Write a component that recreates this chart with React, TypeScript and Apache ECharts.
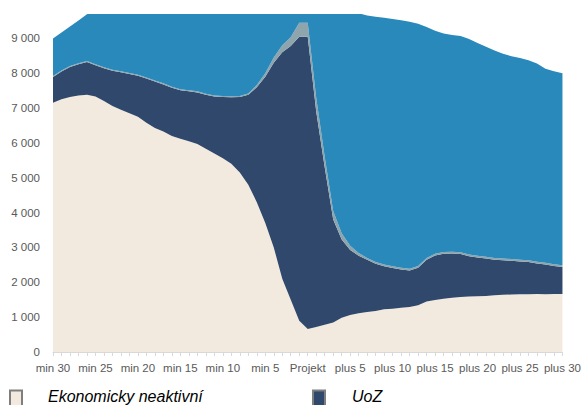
import React, { useEffect, useRef } from "react";
import * as echarts from "echarts";

const categories = [
  "min 30", "min 29", "min 28", "min 27", "min 26", "min 25", "min 24", "min 23", "min 22", "min 21",
  "min 20", "min 19", "min 18", "min 17", "min 16", "min 15", "min 14", "min 13", "min 12", "min 11",
  "min 10", "min 9", "min 8", "min 7", "min 6", "min 5", "min 4", "min 3", "min 2", "min 1",
  "Projekt",
  "plus 1", "plus 2", "plus 3", "plus 4", "plus 5", "plus 6", "plus 7", "plus 8", "plus 9", "plus 10",
  "plus 11", "plus 12", "plus 13", "plus 14", "plus 15", "plus 16", "plus 17", "plus 18", "plus 19", "plus 20",
  "plus 21", "plus 22", "plus 23", "plus 24", "plus 25", "plus 26", "plus 27", "plus 28", "plus 29", "plus 30",
];

const ekonomickyNeaktivni = [
  7150, 7250, 7320, 7360, 7380, 7330, 7200, 7060, 6950, 6850,
  6750, 6580, 6430, 6330, 6200, 6120, 6050, 5970, 5830, 5700,
  5560, 5400, 5150, 4800, 4300, 3700, 3000, 2100, 1500, 900,
  660,
  720, 780, 850, 980, 1060, 1110, 1150, 1180, 1230, 1240,
  1270, 1290, 1340, 1450, 1490, 1530, 1560, 1580, 1590, 1600,
  1610, 1630, 1640, 1650, 1660, 1660, 1665, 1660, 1665, 1665,
];

const uoz = [
  740, 800, 860, 900, 940, 900, 940, 1010, 1080, 1130,
  1180, 1270, 1330, 1350, 1380, 1390, 1430, 1480, 1550, 1630,
  1760, 1910, 2170, 2580, 3300, 4200, 5300, 6500, 7280, 8150,
  8390,
  6180, 4520, 2950, 2250, 1870, 1650, 1500, 1350, 1230, 1170,
  1100, 1050, 1080, 1200, 1280, 1290, 1270, 1230, 1160, 1110,
  1070, 1020, 990, 970, 940, 920, 875, 850, 805, 775,
];

const ostatni = [
  30, 30, 30, 30, 30, 30, 30, 30, 30, 30,
  30, 30, 30, 30, 30, 30, 30, 30, 30, 30,
  30, 30, 30, 40, 60, 100, 150, 200, 250, 400,
  400,
  400, 300, 250, 180, 120, 80, 50, 50, 50, 50,
  50, 50, 50, 50, 50, 50, 50, 50, 50, 50,
  50, 50, 50, 50, 50, 50, 50, 50, 50, 50,
];

const zamestnani = [
  1080, 1090, 1130, 1220, 1340, 1590, 1780, 1900, 1940, 1990,
  2040, 2120, 2210, 2290, 2390, 2460, 2490, 2520, 2590, 2640,
  2650, 2660, 2650, 2580, 2340, 2000, 1550, 1200, 970, 550,
  550,
  2700, 4400, 5950, 6590, 6750, 6880, 6960, 7040, 7080, 7100,
  7100, 7090, 6950, 6630, 6400, 6270, 6220, 6210, 6180, 6110,
  6030, 5950, 5880, 5820, 5790, 5740, 5690, 5570, 5540, 5510,
];

const FONT = "Liberation Sans";

function fmt(v: number) {
  return String(v).replace(/\B(?=(\d{3})+(?!\d))/g, " ");
}

export default function App() {
  const ref = useRef<HTMLDivElement>(null);
  useEffect(() => {
    if (!ref.current) return;
    const chart = echarts.init(ref.current, undefined, { renderer: "svg" });
    const mk = (name: string, data: number[], color: string) => ({
      name,
      type: "line",
      stack: "total",
      data,
      showSymbol: false,
      symbol: "none",
      lineStyle: { width: 0, color },
      itemStyle: { color, borderColor: "#7f7f7f", borderWidth: 1 },
      areaStyle: { color, opacity: 1 },
      emphasis: { disabled: true },
    });
    const textRich = (gap: number) => ({
      s: { width: gap, height: 10 },
      t: {
        fontFamily: FONT,
        fontStyle: "italic",
        fontSize: 16,
        color: "#000",
        padding: [0, 0, 11, 0],
      },
    });
    const legendBase = {
      top: 388,
      orient: "horizontal",
      icon: "rect",
      itemWidth: 12,
      itemHeight: 22,
      selectedMode: false,
      padding: 0,
      formatter: "{s|}{t|{name}}",
    };
    chart.setOption({
      animation: false,
      grid: { left: 53, right: 21, top: 14, bottom: 53, containLabel: false },
      legend: [
        {
          ...legendBase,
          left: 9,
          data: ["Ekonomicky neaktivní"],
          textStyle: { fontFamily: FONT, fontSize: 16, verticalAlign: "middle", rich: textRich(21) },
        },
        {
          ...legendBase,
          left: 312,
          data: ["UoZ"],
          textStyle: { fontFamily: FONT, fontSize: 16, verticalAlign: "middle", rich: textRich(22) },
        },
      ],
      xAxis: {
        type: "category",
        data: categories,
        boundaryGap: false,
        axisLine: { show: true, lineStyle: { color: "#d9d9d9", width: 1 } },
        axisTick: { show: true, interval: 0, length: 4, lineStyle: { color: "#d9d9d9" } },
        axisLabel: { interval: 4, color: "#595959", fontFamily: FONT, fontSize: 11.5, margin: 10 },
        splitLine: { show: false },
      },
      yAxis: {
        type: "value",
        min: 0,
        max: 9700,
        interval: 1000,
        axisLine: { show: false },
        axisTick: { show: false },
        splitLine: { show: false },
        axisLabel: {
          showMaxLabel: false,
          color: "#595959",
          fontFamily: FONT,
          fontSize: 11.5,
          margin: 13,
          formatter: (v: number) => fmt(v),
        },
      },
      series: [
        mk("Ekonomicky neaktivní", ekonomickyNeaktivni, "#f3eadf"),
        mk("UoZ", uoz, "#2f486b"),
        mk("Ostatní", ostatni, "#8ea5ae"),
        mk("Zaměstnaní", zamestnani, "#2989bb"),
      ],
    });
    return () => chart.dispose();
  }, []);
  return <div ref={ref} style={{ width: 584, height: 405, position: "absolute", left: 0, top: 0 }} />;
}
